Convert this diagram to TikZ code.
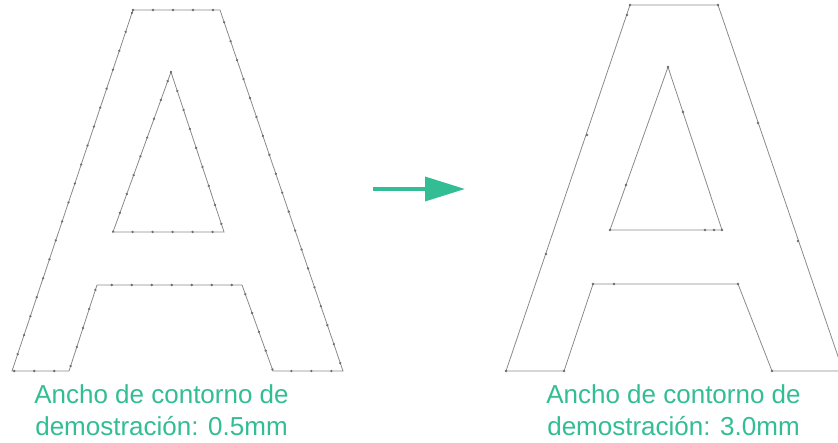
\documentclass[tikz,border=0pt]{standalone}
\usepackage{fontspec}
\setmainfont{Liberation Sans}
\usetikzlibrary{arrows.meta,decorations.markings}
\definecolor{teal}{HTML}{33BD94}
\definecolor{outline}{HTML}{8A8A8A}
\definecolor{dotc}{HTML}{6E6E6E}
\tikzset{
  glyph/.style={draw=outline, line width=0.8pt, line join=miter},
  densedots/.style={postaction={decorate, decoration={markings,
      mark=between positions 0 and 1 step 20pt with {\fill[dotc] (0,0) circle (1.3pt);}}}},
  vdot/.style={fill=dotc},
  caption/.style={text=teal, font=\fontsize{26}{32}\selectfont, align=center, inner sep=0pt, anchor=north},
  bigarrow/.style={draw=teal, line width=3.5pt, -{Triangle[length=40pt,width=24pt]}}
}
\begin{document}
\begin{tikzpicture}[x=1pt,y=-1pt]
\useasboundingbox (0,0) rectangle (838,443);
\begin{scope}
\clip (0,0) rectangle (838,443);
% left A (0.5mm)
\draw[glyph,densedots] (133,10) -- (220,10) -- (343,371) -- (273,371) -- (242,285) -- (97,285) -- (69,371) -- (12,371) -- cycle;
\draw[glyph,densedots] (171,72) -- (224,232) -- (113,232) -- cycle;
% right A (3.0mm)
\draw[glyph] (630,5) -- (718,5) -- (843,371) -- (772,371) -- (738,284) -- (593,284) -- (564,371) -- (506,371) -- cycle;
\draw[glyph] (668,67) -- (722,230) -- (610,230) -- cycle;
\foreach \p in {(630,5),(718,5),(627,15),(587,135),(546,254),(506,371),(564,371),(758,123),(798,241),(683,112),(626,185),(705,230),(714,230),(722,230),(668,67),(610,230),(593,284),(614,284),(738,284),(772,371)}
  \fill[vdot] \p circle (1.3pt);
\end{scope}
% arrow
\coordinate (arrowstart) at (373,189);
\coordinate (arrowend) at (465,189);
\draw[bigarrow] (arrowstart) -- (arrowend);
% captions
\node[caption] (capleft) at (161.5,384.5) {Ancho de contorno de\\demostración: 0.5mm};
\node[caption] (capright) at (673.5,384.5) {Ancho de contorno de\\demostración: 3.0mm};
\end{tikzpicture}
\end{document}
